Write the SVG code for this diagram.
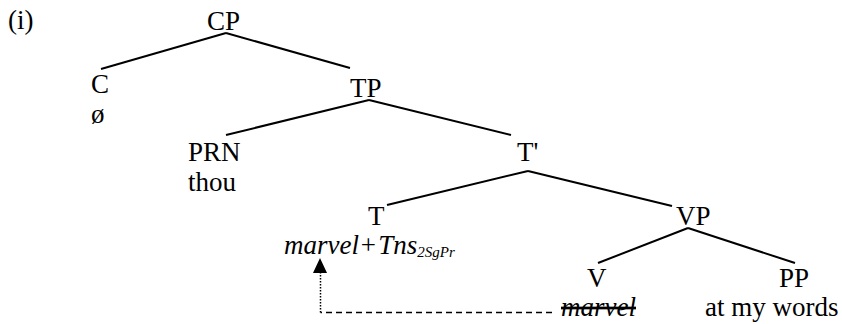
<svg xmlns="http://www.w3.org/2000/svg" width="842" height="324" viewBox="0 0 842 324">
<defs>
<style>
text{font-family:'Liberation Serif','Times New Roman',Times,serif;font-size:27px;fill:#000}
.it{font-style:italic}
.sub{font-size:15px;font-style:italic}
.edge{stroke:#000;stroke-width:2;fill:none}
.dash{stroke:#000;stroke-width:1.5;fill:none;stroke-dasharray:6 4}
.dot{stroke:#000;stroke-width:1.5;fill:none;stroke-dasharray:1.5 1.5}
</style>
</defs>
<text x="8" y="29">(i)</text>
<g id="connectors">
<line class="edge" x1="226" y1="33" x2="101" y2="69"/>
<line class="edge" x1="226" y1="33" x2="350" y2="68"/>
<line class="edge" x1="369" y1="100" x2="226" y2="135"/>
<line class="edge" x1="369" y1="100" x2="511" y2="135"/>
<line class="edge" x1="528" y1="171" x2="387" y2="205"/>
<line class="edge" x1="528" y1="171" x2="672" y2="206"/>
<line class="edge" x1="688" y1="228" x2="598" y2="263"/>
<line class="edge" x1="688" y1="228" x2="795" y2="263"/>
<polyline class="dash" points="552,312.5 320.5,312.5"/>
<line class="dot" x1="320.5" y1="312.5" x2="320.5" y2="273"/>
<path d="M320,258 L313,273 L327,273 z" fill="#000"/>
</g>
<g id="CP"><text x="207" y="30">CP</text></g>
<g id="C"><text x="91" y="93">C</text><text x="91" y="123">ø</text></g>
<g id="TP"><text x="350" y="97">TP</text></g>
<g id="PRN"><text x="188" y="161">PRN</text><text x="188" y="191">thou</text></g>
<g id="Tbar"><text x="517" y="161">T'</text></g>
<g id="T"><text x="368" y="225">T</text><text x="284" y="254" class="it">marvel+<tspan dx="1">Tns</tspan><tspan class="sub" dy="3">2SgPr</tspan></text></g>
<g id="VP"><text x="676" y="225">VP</text></g>
<g id="V"><text x="587" y="287">V</text><text x="561" y="316" class="it" text-decoration="line-through">marvel</text></g>
<g id="PP"><text x="779" y="287">PP</text><text x="705" y="316">at my words</text></g>
</svg>
